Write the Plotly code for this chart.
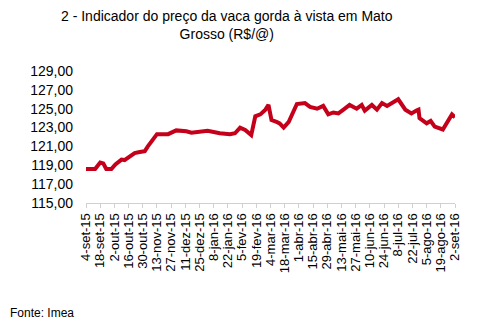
import plotly.graph_objects as go

dates = ["2015-09-04","2015-09-13","2015-09-18","2015-09-21","2015-09-24","2015-09-29",
         "2015-10-03","2015-10-09","2015-10-12","2015-10-22","2015-10-27","2015-11-01",
         "2015-11-04","2015-11-13","2015-11-24","2015-12-02","2015-12-12","2015-12-17",
         "2016-01-02","2016-01-14","2016-01-24","2016-01-29","2016-02-03","2016-02-08",
         "2016-02-14","2016-02-18","2016-02-23","2016-02-28","2016-03-02","2016-03-05",
         "2016-03-10","2016-03-13","2016-03-17","2016-03-22","2016-03-30","2016-04-07",
         "2016-04-12","2016-04-19","2016-04-25","2016-04-30","2016-05-05","2016-05-10",
         "2016-05-15","2016-05-21","2016-05-28","2016-06-02","2016-06-05","2016-06-12",
         "2016-06-17","2016-06-22","2016-06-27","2016-07-02","2016-07-08","2016-07-15",
         "2016-07-21","2016-07-26","2016-07-28","2016-07-29","2016-08-05","2016-08-09",
         "2016-08-13","2016-08-21","2016-08-25","2016-08-30","2016-09-02"]
values = [118.6,118.6,119.3,119.2,118.6,118.6,
          119.1,119.6,119.55,120.3,120.4,120.5,
          121.0,122.3,122.3,122.7,122.6,122.45,
          122.65,122.4,122.3,122.4,123.0,122.75,
          122.2,124.2,124.4,124.9,125.4,123.8,
          123.6,123.45,123.0,123.6,125.5,125.6,
          125.2,125.0,125.3,124.4,124.6,124.5,
          124.9,125.4,125.0,125.4,124.8,125.4,
          124.9,125.6,125.3,125.6,126.0,124.9,
          124.5,124.8,124.9,124.0,123.45,123.7,
          123.1,122.8,123.6,124.4,124.1]

tick_dates = ["2015-09-04","2015-09-18","2015-10-02","2015-10-16","2015-10-30","2015-11-13",
              "2015-11-27","2015-12-11","2015-12-25","2016-01-08","2016-01-22","2016-02-05",
              "2016-02-19","2016-03-04","2016-03-18","2016-04-01","2016-04-15","2016-04-29",
              "2016-05-13","2016-05-27","2016-06-10","2016-06-24","2016-07-08","2016-07-22",
              "2016-08-05","2016-08-19","2016-09-02"]
tick_labels = ["4-set-15","18-set-15","2-out-15","16-out-15","30-out-15","13-nov-15",
               "27-nov-15","11-dez-15","25-dez-15","8-jan-16","22-jan-16","5-fev-16",
               "19-fev-16","4-mar-16","18-mar-16","1-abr-16","15-abr-16","29-abr-16",
               "13-mai-16","27-mai-16","10-jun-16","24-jun-16","8-jul-16","22-jul-16",
               "5-ago-16","19-ago-16","2-set-16"]
y_ticks = [115, 117, 119, 121, 123, 125, 127, 129]

FONT = "Liberation Sans, Arial, sans-serif"

# plot area in pixels: x 86..455, y 71..203
L, R, T, B = 86, 455, 71, 203
def px(x):
    return (x - L) / (R - L)
def py(y):
    return (B - y) / (B - T)

fig = go.Figure()
fig.add_trace(go.Scatter(x=dates, y=values, mode="lines",
                         line=dict(color="#C4001A", width=4), hoverinfo="skip"))

fig.update_layout(
    width=484, height=336,
    margin=dict(l=L, r=484 - R, t=T, b=336 - B),
    paper_bgcolor="white", plot_bgcolor="white",
    showlegend=False,
    separators=",.",
    font=dict(family=FONT, color="black"),
    xaxis=dict(type="date", range=["2015-09-04", "2016-09-02"],
               tickmode="array", tickvals=tick_dates, ticktext=tick_labels,
               tickangle=-90, tickfont=dict(size=13, family=FONT, color="black"),
               showgrid=False, showline=True, linecolor="#d0d0d0", linewidth=1,
               ticks="outside", ticklen=4, tickcolor="#d0d0d0", zeroline=False),
    yaxis=dict(range=[115, 129], tickmode="array", tickvals=y_ticks,
               tickformat=".2f", tickfont=dict(size=14, family=FONT, color="black"),
               showgrid=False, showline=False, zeroline=False, ticks="",
               ticklabelstandoff=12),
    annotations=[
        dict(text="2 - Indicador do preço da vaca gorda à vista em Mato<br>Grosso (R$/@)",
             x=px(227), y=py(25), xref="paper", yref="paper",
             xanchor="center", yanchor="middle", showarrow=False, align="center",
             font=dict(size=14, family=FONT, color="black")),
        dict(text="Fonte: Imea", x=px(8), y=py(313), xref="paper", yref="paper",
             xanchor="left", yanchor="middle", showarrow=False,
             font=dict(size=12, family=FONT, color="black")),
    ],
)
fig.update_yaxes(automargin=False)
fig.update_xaxes(automargin=False)
fig.write_html("out.html")
